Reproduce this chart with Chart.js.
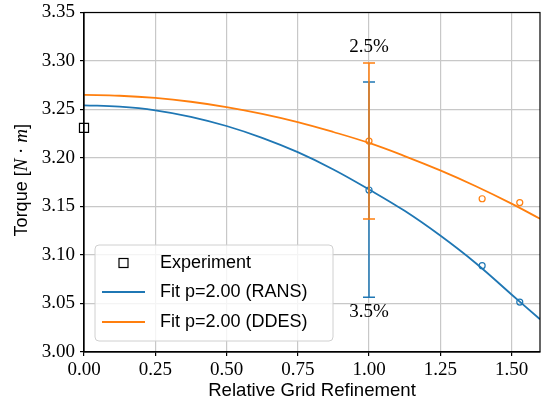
<!DOCTYPE html>
<html>
<head>
<meta charset="utf-8">
<script src="https://cdn.jsdelivr.net/npm/chart.js@4.4.1/dist/chart.umd.min.js"></script>
<style>
  html, body { margin: 0; padding: 0; background: #fff; }
  #wrap { width: 543px; height: 406px; }
</style>
</head>
<body>
<div id="wrap"><canvas id="torqueChart" width="543" height="406"></canvas></div>
<script>
// fit curves
const fitX = [0, 0.125, 0.25, 0.375, 0.5, 0.625, 0.75, 0.875, 1.0, 1.125, 1.25, 1.375, 1.5, 1.6];
const ransFit = [3.2543, 3.2529, 3.2492, 3.2425, 3.2330, 3.2208, 3.2060, 3.1882, 3.1676, 3.1455, 3.1200, 3.0915, 3.0593, 3.0337];
const ddesFit = [3.2650, 3.2642, 3.2619, 3.2580, 3.2525, 3.2455, 3.2370, 3.2268, 3.2155, 3.2020, 3.1872, 3.1709, 3.1530, 3.1374];

// simulation points
const simX = [1.0, 1.397, 1.529];
const ransPts = [3.167, 3.089, 3.0515];
const ddesPts = [3.2175, 3.158, 3.154];

// experiment
const expX = [0];
const expY = [3.231];

// error bars at the finest grid: [low, high]
const errX = 1.0;
const ransErr = [3.0564, 3.2784];
const ddesErr = [3.137, 3.298];
const errLabels = ["2.5%", "3.5%"];
const errLabelY = [3.314, 3.041];

const xTicks = [0, 0.25, 0.5, 0.75, 1.0, 1.25, 1.5];
const yTicks = [3.00, 3.05, 3.10, 3.15, 3.20, 3.25, 3.30, 3.35];

const BLUE = "#1f77b4";
const ORANGE = "#ff7f0e";
const SERIF = "'Liberation Serif', 'DejaVu Serif', serif";
const SANS = "'Liberation Sans', 'DejaVu Sans', sans-serif";

function pts(xs, ys) {
    return xs.map((x, i) => ({ x: x, y: ys[i] }));
}

// error bars, labels, frame, legend
const extras = {
    id: "extras",
    afterDatasetsDraw(chart) {
        const ctx = chart.ctx;
        const xs = chart.scales.x, ys = chart.scales.y;
        const px = xs.getPixelForValue(errX);
        [[ransErr, BLUE], [ddesErr, ORANGE]].forEach(([e, c]) => {
            const y0 = ys.getPixelForValue(e[0]);
            const y1 = ys.getPixelForValue(e[1]);
            ctx.save();
            ctx.strokeStyle = c;
            ctx.lineWidth = 1.5;
            ctx.beginPath();
            ctx.moveTo(px, y0); ctx.lineTo(px, y1);
            ctx.moveTo(px - 6, y0); ctx.lineTo(px + 6, y0);
            ctx.moveTo(px - 6, y1); ctx.lineTo(px + 6, y1);
            ctx.stroke();
            ctx.restore();
        });
    },
    afterDraw(chart) {
        const ctx = chart.ctx;
        const a = chart.chartArea;
        const xs = chart.scales.x, ys = chart.scales.y;

        // frame
        ctx.save();
        ctx.strokeStyle = "#000";
        ctx.lineWidth = 1.2;
        ctx.strokeRect(a.left, a.top, a.right - a.left, a.bottom - a.top);
        ctx.restore();

        // percent labels
        ctx.save();
        ctx.fillStyle = "#000";
        ctx.font = "19px " + SERIF;
        ctx.textAlign = "center";
        ctx.textBaseline = "middle";
        errLabels.forEach((t, i) => {
            ctx.fillText(t, xs.getPixelForValue(errX), ys.getPixelForValue(errLabelY[i]));
        });
        ctx.restore();

        // x title
        ctx.save();
        ctx.fillStyle = "#000";
        ctx.font = "18.6px " + SANS;
        ctx.textAlign = "center";
        ctx.textBaseline = "middle";
        ctx.fillText("Relative Grid Refinement", (a.left + a.right) / 2, 391);
        ctx.restore();

        // y title with italic units
        ctx.save();
        ctx.translate(22, (a.top + a.bottom) / 2 - 2);
        ctx.rotate(-Math.PI / 2);
        ctx.fillStyle = "#000";
        ctx.textBaseline = "middle";
        const parts = [
            ["Torque [", "18px " + SANS],
            ["N", "italic 19px " + SERIF],
            [" \u00b7 ", "19px " + SERIF],
            ["m", "italic 19px " + SERIF],
            ["]", "18px " + SANS]
        ];
        let total = 0;
        parts.forEach(p => { ctx.font = p[1]; total += ctx.measureText(p[0]).width; });
        let cx = -total / 2;
        ctx.textAlign = "left";
        parts.forEach(p => {
            ctx.font = p[1];
            ctx.fillText(p[0], cx, 0);
            cx += ctx.measureText(p[0]).width;
        });
        ctx.restore();

        // legend
        const lx = 95, ly = 245, lw = 238, lh = 96, r = 4;
        ctx.save();
        ctx.beginPath();
        ctx.moveTo(lx + r, ly);
        ctx.arcTo(lx + lw, ly, lx + lw, ly + lh, r);
        ctx.arcTo(lx + lw, ly + lh, lx, ly + lh, r);
        ctx.arcTo(lx, ly + lh, lx, ly, r);
        ctx.arcTo(lx, ly, lx + lw, ly, r);
        ctx.closePath();
        ctx.fillStyle = "rgba(255,255,255,0.8)";
        ctx.fill();
        ctx.strokeStyle = "#d0d0d0";
        ctx.lineWidth = 1;
        ctx.stroke();

        const items = chart.data.datasets.filter(d => d.inLegend);
        const rowY = [263, 292, 322];
        ctx.font = "18px " + SANS;
        ctx.textBaseline = "middle";
        ctx.textAlign = "left";
        items.forEach((d, i) => {
            const y = rowY[i];
            if (d.showLine) {
                ctx.strokeStyle = d.borderColor;
                ctx.lineWidth = 1.8;
                ctx.beginPath();
                ctx.moveTo(102, y); ctx.lineTo(145, y);
                ctx.stroke();
            } else {
                ctx.strokeStyle = "#000";
                ctx.lineWidth = 1.2;
                ctx.strokeRect(119, y - 4.5, 9, 9);
            }
            ctx.fillStyle = "#000";
            ctx.fillText(d.label, 160, y);
        });
        ctx.restore();
    }
};

new Chart(document.getElementById("torqueChart"), {
    type: "scatter",
    data: {
        datasets: [
            {
                label: "Experiment",
                inLegend: true,
                data: pts(expX, expY),
                showLine: false,
                pointStyle: "rect",
                pointRadius: 6.4,
                borderColor: "#000",
                backgroundColor: "rgba(0,0,0,0)",
                borderWidth: 1.2,
                clip: false
            },
            {
                label: "Fit p=2.00 (RANS)",
                inLegend: true,
                data: pts(fitX, ransFit),
                showLine: true,
                tension: 0.4,
                pointRadius: 0,
                borderColor: BLUE,
                borderWidth: 1.8
            },
            {
                label: "Fit p=2.00 (DDES)",
                inLegend: true,
                data: pts(fitX, ddesFit),
                showLine: true,
                tension: 0.4,
                pointRadius: 0,
                borderColor: ORANGE,
                borderWidth: 1.8
            },
            {
                label: "RANS",
                data: pts(simX, ransPts),
                showLine: false,
                pointRadius: 3,
                borderColor: BLUE,
                backgroundColor: "rgba(0,0,0,0)",
                borderWidth: 1.2
            },
            {
                label: "DDES",
                data: pts(simX, ddesPts),
                showLine: false,
                pointRadius: 3,
                borderColor: ORANGE,
                backgroundColor: "rgba(0,0,0,0)",
                borderWidth: 1.2
            }
        ]
    },
    options: {
        responsive: false,
        animation: false,
        devicePixelRatio: 1,
        layout: { autoPadding: false, padding: { top: 12.5, right: 3, left: 0, bottom: 0 } },
        plugins: {
            legend: { display: false },
            tooltip: { enabled: false }
        },
        scales: {
            x: {
                type: "linear",
                min: 0,
                max: 1.6,
                afterBuildTicks: s => { s.ticks = xTicks.map(v => ({ value: v })); },
                afterFit: s => { s.height = 54; s.paddingLeft = 0; s.paddingRight = 0; },
                grid: { color: "#c8c8c8", lineWidth: 1.2, tickColor: "#000", tickLength: 4 },
                border: { color: "#000", width: 1.2 },
                ticks: {
                    color: "#000",
                    font: { family: SERIF, size: 19 },
                    padding: 3,
                    maxRotation: 0,
                    callback: v => Number(v).toFixed(2)
                }
            },
            y: {
                type: "linear",
                min: 3.0,
                max: 3.35,
                afterBuildTicks: s => { s.ticks = yTicks.map(v => ({ value: v })); },
                afterFit: s => { s.width = 84; s.paddingTop = 0; s.paddingBottom = 0; },
                grid: { color: "#c8c8c8", lineWidth: 1.2, tickColor: "#000", tickLength: 4 },
                border: { color: "#000", width: 1.2 },
                ticks: {
                    color: "#000",
                    font: { family: SERIF, size: 19 },
                    padding: 5,
                    callback: v => Number(v).toFixed(2)
                }
            }
        }
    },
    plugins: [extras]
});
</script>
</body>
</html>
